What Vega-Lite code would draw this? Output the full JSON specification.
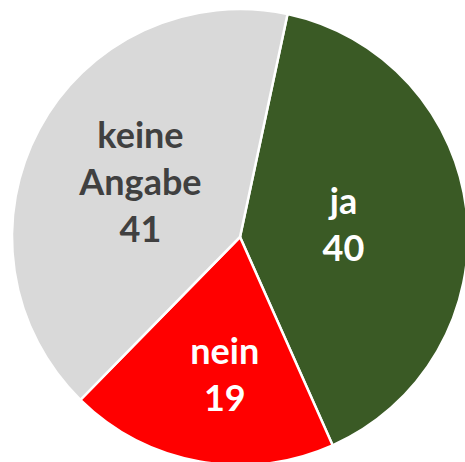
{
  "$schema": "https://vega.github.io/schema/vega-lite/v6.json",
  "width": 450,
  "height": 450,
  "autosize": {"type": "none"},
  "padding": {"left": 15, "top": 12, "right": 0, "bottom": 0},
  "background": "white",
  "view": {"stroke": null},
  "data": {
    "values": [
      {"antwort": "ja", "anzahl": 40, "rang": 1},
      {"antwort": "nein", "anzahl": 19, "rang": 2},
      {"antwort": "keine Angabe", "anzahl": 41, "rang": 3}
    ]
  },
  "transform": [
    {"calculate": "split(datum.antwort + ' ' + datum.anzahl, ' ')", "as": "beschriftung"}
  ],
  "encoding": {
    "theta": {"field": "anzahl", "type": "quantitative", "stack": true, "scale": {"range": [0.21, 6.4932]}},
    "order": {"field": "rang", "type": "quantitative"}
  },
  "layer": [
    {
      "mark": {"type": "arc", "outerRadius": 228, "stroke": "white", "strokeWidth": 2.5},
      "encoding": {
        "color": {
          "field": "antwort",
          "type": "nominal",
          "scale": {"domain": ["ja", "nein", "keine Angabe"], "range": ["#3A5A25", "#FF0000", "#D9D9D9"]},
          "legend": null
        }
      }
    },
    {
      "mark": {"type": "text", "font": "Lato", "fontWeight": "bold", "fontSize": 36, "lineHeight": 47, "align": "center", "baseline": "middle", "dy": -23.5, "color": "white", "radius": 104},
      "encoding": {
        "text": {"condition": {"test": "datum.antwort === 'ja'", "field": "beschriftung"}, "value": ""}
      }
    },
    {
      "mark": {"type": "text", "font": "Lato", "fontWeight": "bold", "fontSize": 36, "lineHeight": 47, "align": "center", "baseline": "middle", "dx": 10, "dy": -23.5, "color": "white", "radius": 142},
      "encoding": {
        "text": {"condition": {"test": "datum.antwort === 'nein'", "field": "beschriftung"}, "value": ""}
      }
    },
    {
      "mark": {"type": "text", "font": "Lato", "fontWeight": "bold", "fontSize": 36, "lineHeight": 47, "align": "center", "baseline": "middle", "dy": -47, "color": "#404040", "radius": 113},
      "encoding": {
        "text": {"condition": {"test": "datum.antwort === 'keine Angabe'", "field": "beschriftung"}, "value": ""}
      }
    }
  ]
}
